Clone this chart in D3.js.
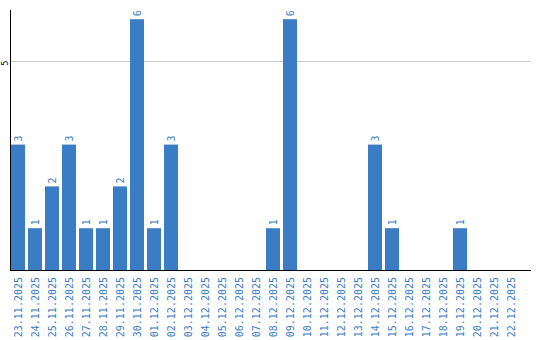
<!DOCTYPE html>
<html><head><meta charset="utf-8">
<script src="https://cdn.jsdelivr.net/npm/d3@7"></script>
<style>body{margin:0;background:#fff}svg{display:block}</style>
</head><body>
<script>
const categories = ["23.11.2025","24.11.2025","25.11.2025","26.11.2025","27.11.2025","28.11.2025","29.11.2025","30.11.2025","01.12.2025","02.12.2025","03.12.2025","04.12.2025","05.12.2025","06.12.2025","07.12.2025","08.12.2025","09.12.2025","10.12.2025","11.12.2025","12.12.2025","13.12.2025","14.12.2025","15.12.2025","16.12.2025","17.12.2025","18.12.2025","19.12.2025","20.12.2025","21.12.2025","22.12.2025"];
const values = [3,1,2,3,1,1,2,6,1,3,0,0,0,0,0,1,6,0,0,0,0,3,1,0,0,0,1,0,0,0];
const yTicks = [5];

const W = 540, H = 340;
const mLeft = 10, mRight = 531, mTop = 10, mBottom = 270;
const blue = "#3b7dc4";

const svg = d3.select("body").append("svg").attr("width", W).attr("height", H);

const x = d3.scaleBand().domain(categories).range([9.5, 519.5]).paddingInner(3/17).paddingOuter(1.5/17);
const y = d3.scaleLinear().domain([0, 6.22]).range([mBottom, mTop]);

// gridlines
svg.append("g").selectAll("line").data(yTicks).join("line")
  .attr("x1", mLeft).attr("x2", mRight)
  .attr("y1", d => Math.round(y(d)) + 0.5).attr("y2", d => Math.round(y(d)) + 0.5)
  .attr("stroke", "#cccccc").attr("stroke-width", 1);

// bars
svg.append("g").selectAll("rect").data(values).join("rect")
  .attr("x", (d, i) => x(categories[i]))
  .attr("width", x.bandwidth())
  .attr("y", d => y(d))
  .attr("height", d => mBottom - y(d))
  .attr("fill", blue);

// value labels
svg.append("g").selectAll("text").data(values.map((v, i) => ({v, i})).filter(d => d.v > 0)).join("text")
  .attr("transform", d => `translate(${x(categories[d.i]) + x.bandwidth()/2 + 3.5},${y(d.v) - 3}) rotate(-90)`)
  .attr("text-anchor", "start")
  .attr("font-family", "DejaVu Sans Mono, monospace")
  .attr("font-size", 10)
  .attr("fill", blue)
  .text(d => d.v);

// y tick labels
svg.append("g").selectAll("text").data(yTicks).join("text")
  .attr("transform", d => `translate(7.5,${y(d) + 2}) rotate(-90)`)
  .attr("text-anchor", "middle")
  .attr("font-family", "DejaVu Sans Mono, monospace")
  .attr("font-size", 8)
  .attr("fill", "#000")
  .text(d => d);

// axes lines
svg.append("line").attr("x1", mLeft + 0.5).attr("x2", mLeft + 0.5).attr("y1", mTop).attr("y2", mBottom)
  .attr("stroke", "#000").attr("stroke-width", 1);
svg.append("line").attr("x1", mLeft).attr("x2", mRight).attr("y1", mBottom + 0.5).attr("y2", mBottom + 0.5)
  .attr("stroke", "#000").attr("stroke-width", 1);

// x labels
svg.append("g").selectAll("text").data(categories).join("text")
  .attr("transform", d => `translate(${x(d) + x.bandwidth()/2 + 3.5},${mBottom + 7}) rotate(-90)`)
  .attr("text-anchor", "end")
  .attr("font-family", "DejaVu Sans Mono, monospace")
  .attr("font-size", 10)
  .attr("fill", blue)
  .text(d => d);
</script>
</body></html>
